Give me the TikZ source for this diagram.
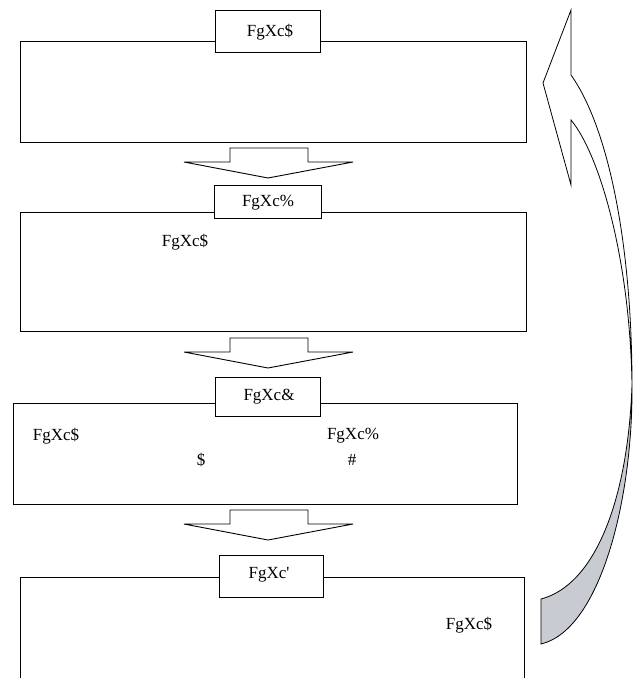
\documentclass[tikz,border=0pt]{standalone}
\usepackage{fontspec}
\setmainfont{Liberation Serif}
\usepackage{xcolor}
\definecolor{loopgray}{RGB}{200,203,210}

\tikzset{
    stagebox/.style={draw, line width=1pt, inner sep=0pt, outer sep=0pt},
    tagbox/.style={draw, fill=white, line width=1pt, inner sep=0pt, outer sep=0pt},
    stagetext/.style={inner sep=0pt, font=\fontsize{17}{20}\selectfont},
    blockarrow/.style={draw, fill=white, line width=0.9pt, line join=miter},
    looparrow/.style={draw, line width=0.8pt, line join=miter}
}

\begin{document}
\begin{tikzpicture}[x=1pt, y=-1pt]

    % Page size (pixel grid of the reference)
    \useasboundingbox (0,0) rectangle (637,678);

    % Draw the four stage boxes
    \node[stagebox, minimum width=506pt, minimum height=101pt] (stage1) at (273,91.5) {};
    \node[stagebox, minimum width=506pt, minimum height=119pt] (stage2) at (273,271.5) {};
    \node[stagebox, minimum width=504pt, minimum height=101pt] (stage3) at (265,453.5) {};
    \node[stagebox, minimum width=504pt, minimum height=130pt] (stage4) at (272,642) {};

    % Tags sitting on the top edge of each box
    \node[tagbox, minimum width=105pt, minimum height=42pt] (tag1) at (267.5,31) {};
    \node[tagbox, minimum width=107pt, minimum height=33pt] (tag2) at (268,201.5) {};
    \node[tagbox, minimum width=105pt, minimum height=39pt] (tag3) at (267.5,396.5) {};
    \node[tagbox, minimum width=104pt, minimum height=42pt] (tag4) at (271,576) {};

    \node[stagetext] (tagtext1) at (270,32) {FgXc\$};
    \node[stagetext] (tagtext2) at (268,203) {FgXc\%};
    \node[stagetext] (tagtext3) at (269,397) {FgXc\&};
    \node[stagetext] (tagtext4) at (269,575) {FgXc\textquotesingle};

    % Texts inside the boxes
    \node[stagetext] (note21) at (185,242) {FgXc\$};
    \node[stagetext] (note31) at (56,436) {FgXc\$};
    \node[stagetext] (note32) at (353,436) {FgXc\%};
    \node[stagetext] (note33) at (201,460) {\$};
    \node[stagetext] (note34) at (352,460) {\#};
    \node[stagetext] (note41) at (469,625) {FgXc\$};

    % Block arrows between the boxes (y of the shaft top)
    \def\arrowTops{148,338,510}
    \foreach \t in \arrowTops {
        \draw[blockarrow] (230,\t) -- (308,\t) -- (308,\t+14) -- (353,\t+14)
            -- (268,\t+30) -- (184,\t+14) -- (230,\t+14) -- cycle;
    }

    % Curved return arrow on the right (white front, grey back)
    \draw[looparrow, fill=white] (543,83) -- (571,10) -- (571,75)
        .. controls (610,130) and (632,250) .. (632,385)
        .. controls (630,260) and (600,155) .. (571,120)
        -- (571,185) -- cycle;
    \draw[looparrow, fill=loopgray] (632,385)
        .. controls (628,500) and (595,585) .. (541,599)
        -- (541,644)
        .. controls (600,630) and (633,500) .. (632,385) -- cycle;

\end{tikzpicture}
\end{document}
